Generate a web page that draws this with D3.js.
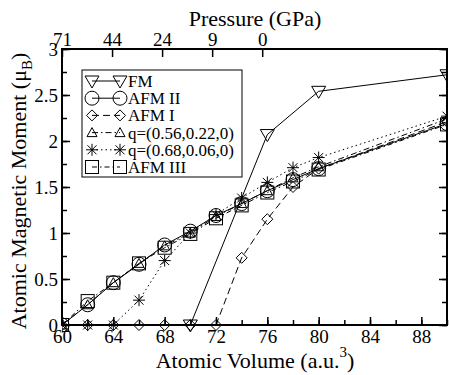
<!DOCTYPE html>
<html>
<head>
<meta charset="utf-8">
<script src="https://cdn.jsdelivr.net/npm/d3@7"></script>
<style>
  body { margin: 0; background: #fff; }
  svg text { font-family: "Liberation Serif", "Times New Roman", "DejaVu Serif", serif !important; fill: #000; }
</style>
</head>
<body>
<div id="chart"></div>
<script>
// data
const volumes = [60, 62, 64, 66, 68, 70, 72, 74, 76, 78, 80, 90];
const fmVolumes = [70, 76, 80, 90];
const fm = [0, 2.07, 2.54, 2.72];
const afm2 = [0, 0.22, 0.46, 0.66, 0.87, 1.02, 1.19, 1.32, 1.46, 1.58, 1.70, 2.19];
const afm1 = [0, 0, 0, 0, 0, 0, 0, 0.73, 1.15, 1.50, 1.70, 2.21];
const q1 = [0, 0.22, 0.46, 0.67, 0.86, 1.00, 1.18, 1.32, 1.46, 1.60, 1.72, 2.24];
const q2 = [0, 0, 0, 0.27, 0.70, 1.00, 1.20, 1.38, 1.55, 1.71, 1.82, 2.27];
const afm3 = [0, 0.26, 0.46, 0.67, 0.84, 0.99, 1.16, 1.30, 1.44, 1.56, 1.69, 2.18];
const xTicks = [60, 64, 68, 72, 76, 80, 84, 88];
const yTicks = [0, 0.5, 1, 1.5, 2, 2.5, 3];
const pressureLabels = ["71", "44", "24", "9", "0"];
const pressureVolumes = [60, 63.9, 67.8, 71.7, 75.6];

const width = 449, height = 375;
const margin = { top: 49, right: 2, bottom: 50, left: 62 };
const serif = '"Liberation Serif", "Times New Roman", serif';

const svg = d3.select("#chart").append("svg")
    .attr("width", width)
    .attr("height", height)
    .attr("font-family", serif);

const xScale = d3.scaleLinear().domain([60, 90]).range([margin.left, width - margin.right]);
const yScale = d3.scaleLinear().domain([0, 3]).range([height - margin.bottom, margin.top]);

svg.append("clipPath").attr("id", "clip")
    .append("rect")
    .attr("x", margin.left).attr("y", margin.top - 10)
    .attr("width", width - margin.right - margin.left)
    .attr("height", height - margin.bottom - margin.top + 20);

const series = [
    { name: "FM", x: fmVolumes, y: fm, dash: null, sym: "tri" },
    { name: "AFM II", x: volumes, y: afm2, dash: null, sym: "circle" },
    { name: "AFM I", x: volumes, y: afm1, dash: "7,4", sym: "diamond" },
    { name: "q=(0.56,0.22,0)", x: volumes, y: q1, dash: "6,3,1.5,3", sym: "triup" },
    { name: "q=(0.68,0.06,0)", x: volumes, y: q2, dash: "1.5,3", sym: "star" },
    { name: "AFM III", x: volumes, y: afm3, dash: "5,3,1.5,3", sym: "square" }
];

function drawSymbol(g, sym) {
    if (sym === "tri") {
        g.append("path").attr("d", "M-7,-5L7,-5L0,7Z");
    } else if (sym === "triup") {
        g.append("path").attr("d", "M-5,4L5,4L0,-5Z");
    } else if (sym === "circle") {
        g.append("circle").attr("r", 7);
    } else if (sym === "diamond") {
        g.append("path").attr("d", "M0,-5.5L5.5,0L0,5.5L-5.5,0Z");
    } else if (sym === "square") {
        g.append("rect").attr("x", -6.5).attr("y", -6.5).attr("width", 13).attr("height", 13);
    } else if (sym === "star") {
        g.append("path").attr("d", "M-6,0L6,0M0,-6L0,6M-4.5,-4.5L4.5,4.5M-4.5,4.5L4.5,-4.5");
    }
    g.selectAll("*").attr("fill", "none").attr("stroke", "#000").attr("stroke-width", 1);
}

const plot = svg.append("g").attr("clip-path", "url(#clip)");

const line = d3.line()
    .x(d => xScale(d[0]))
    .y(d => yScale(d[1]));

series.forEach(s => {
    const pts = s.x.map((v, i) => [v, s.y[i]]);
    plot.append("path")
        .datum(pts)
        .attr("d", line)
        .attr("fill", "none")
        .attr("stroke", "#000")
        .attr("stroke-width", 1)
        .attr("stroke-dasharray", s.dash);
    plot.selectAll(".m" + s.sym)
        .data(pts)
        .enter().append("g")
        .attr("class", "m" + s.sym)
        .attr("transform", d => `translate(${xScale(d[0])},${yScale(d[1])})`)
        .each(function () { drawSymbol(d3.select(this), s.sym); });
});

// axes
const bottom = height - margin.bottom;
svg.append("g")
    .attr("transform", `translate(0,${bottom})`)
    .call(d3.axisBottom(xScale).tickValues(d3.range(60, 91, 2)).tickSize(-5).tickFormat(""))
    .call(g => g.select(".domain").remove());
svg.append("g")
    .attr("transform", `translate(0,${bottom})`)
    .call(d3.axisBottom(xScale).tickValues(xTicks).tickSize(-8).tickFormat(d3.format("d")))
    .call(g => g.select(".domain").remove())
    .call(g => g.selectAll("text").style("font-size", "19px").attr("y", 18).attr("dy", "0"));

svg.append("g")
    .attr("transform", `translate(${margin.left},0)`)
    .call(d3.axisLeft(yScale).tickValues(d3.range(0, 3.01, 0.25)).tickSize(-5).tickFormat(""))
    .call(g => g.select(".domain").remove());
svg.append("g")
    .attr("transform", `translate(${margin.left},0)`)
    .call(d3.axisLeft(yScale).tickValues(yTicks).tickSize(-8).tickFormat(d3.format("")))
    .call(g => g.select(".domain").remove())
    .call(g => g.selectAll("text").style("font-size", "19px").attr("x", -4).attr("dy", "0.33em"));

svg.append("g")
    .attr("transform", `translate(${width - margin.right},0)`)
    .call(d3.axisRight(yScale).tickValues(d3.range(0, 3.01, 0.25)).tickSize(-5).tickFormat(""))
    .call(g => g.select(".domain").remove());
svg.append("g")
    .attr("transform", `translate(${width - margin.right},0)`)
    .call(d3.axisRight(yScale).tickValues(yTicks).tickSize(-8).tickFormat(""))
    .call(g => g.select(".domain").remove());

// top pressure axis
svg.append("g")
    .attr("transform", `translate(0,${margin.top})`)
    .call(d3.axisTop(xScale).tickValues(pressureVolumes).tickSize(-8)
        .tickFormat((d, i) => pressureLabels[i]))
    .call(g => g.select(".domain").remove())
    .call(g => g.selectAll("text").style("font-size", "19px").attr("y", -3).attr("dy", "0"));

// frame
svg.append("rect")
    .attr("x", margin.left).attr("y", margin.top)
    .attr("width", width - margin.right - margin.left)
    .attr("height", height - margin.bottom - margin.top)
    .attr("fill", "none").attr("stroke", "#000").attr("stroke-width", 2);
svg.selectAll(".tick line").attr("stroke", "#000").attr("stroke-width", 1.5);
svg.selectAll(".tick text").attr("font-family", serif);

// axis titles
svg.append("text")
    .attr("x", 255).attr("y", 26)
    .attr("text-anchor", "middle")
    .style("font-size", "22px")
    .text("Pressure (GPa)");

const xl = svg.append("text")
    .attr("x", 255).attr("y", 368)
    .attr("text-anchor", "middle")
    .style("font-size", "22px");
xl.append("tspan").text("Atomic Volume (a.u.");
xl.append("tspan").attr("dy", -11).style("font-size", "15px").text("3");
xl.append("tspan").attr("dy", 11).text(")");

const yl = svg.append("text")
    .attr("transform", "translate(26,191) rotate(-90)")
    .attr("text-anchor", "middle")
    .style("font-size", "22px");
yl.append("tspan").text("Atomic Magnetic Moment (\u03bc");
yl.append("tspan").attr("dy", 6).style("font-size", "15px").text("B");
yl.append("tspan").attr("dy", -6).text(")");

// legend
const legend = svg.append("g").attr("transform", "translate(82,70)");
legend.append("rect")
    .attr("width", 160).attr("height", 107)
    .attr("fill", "#fff").attr("stroke", "#000").attr("stroke-width", 1);

const legendRows = legend.selectAll(".lineLegend")
    .data(series)
    .enter().append("g")
    .attr("class", "lineLegend")
    .attr("transform", (d, i) => `translate(0,${11 + i * 17.2})`);

legendRows.append("line")
    .attr("x1", 10).attr("x2", 38)
    .attr("stroke", "#000").attr("stroke-width", 1)
    .attr("stroke-dasharray", d => d.dash);
legendRows.each(function (d) {
    const r = d3.select(this);
    drawSymbol(r.append("g").attr("transform", "translate(10,0)"), d.sym);
    drawSymbol(r.append("g").attr("transform", "translate(38,0)"), d.sym);
});
legendRows.append("text")
    .attr("x", 46).attr("dy", "0.35em")
    .style("font-size", "17px")
    .text(d => d.name);
</script>
</body>
</html>
